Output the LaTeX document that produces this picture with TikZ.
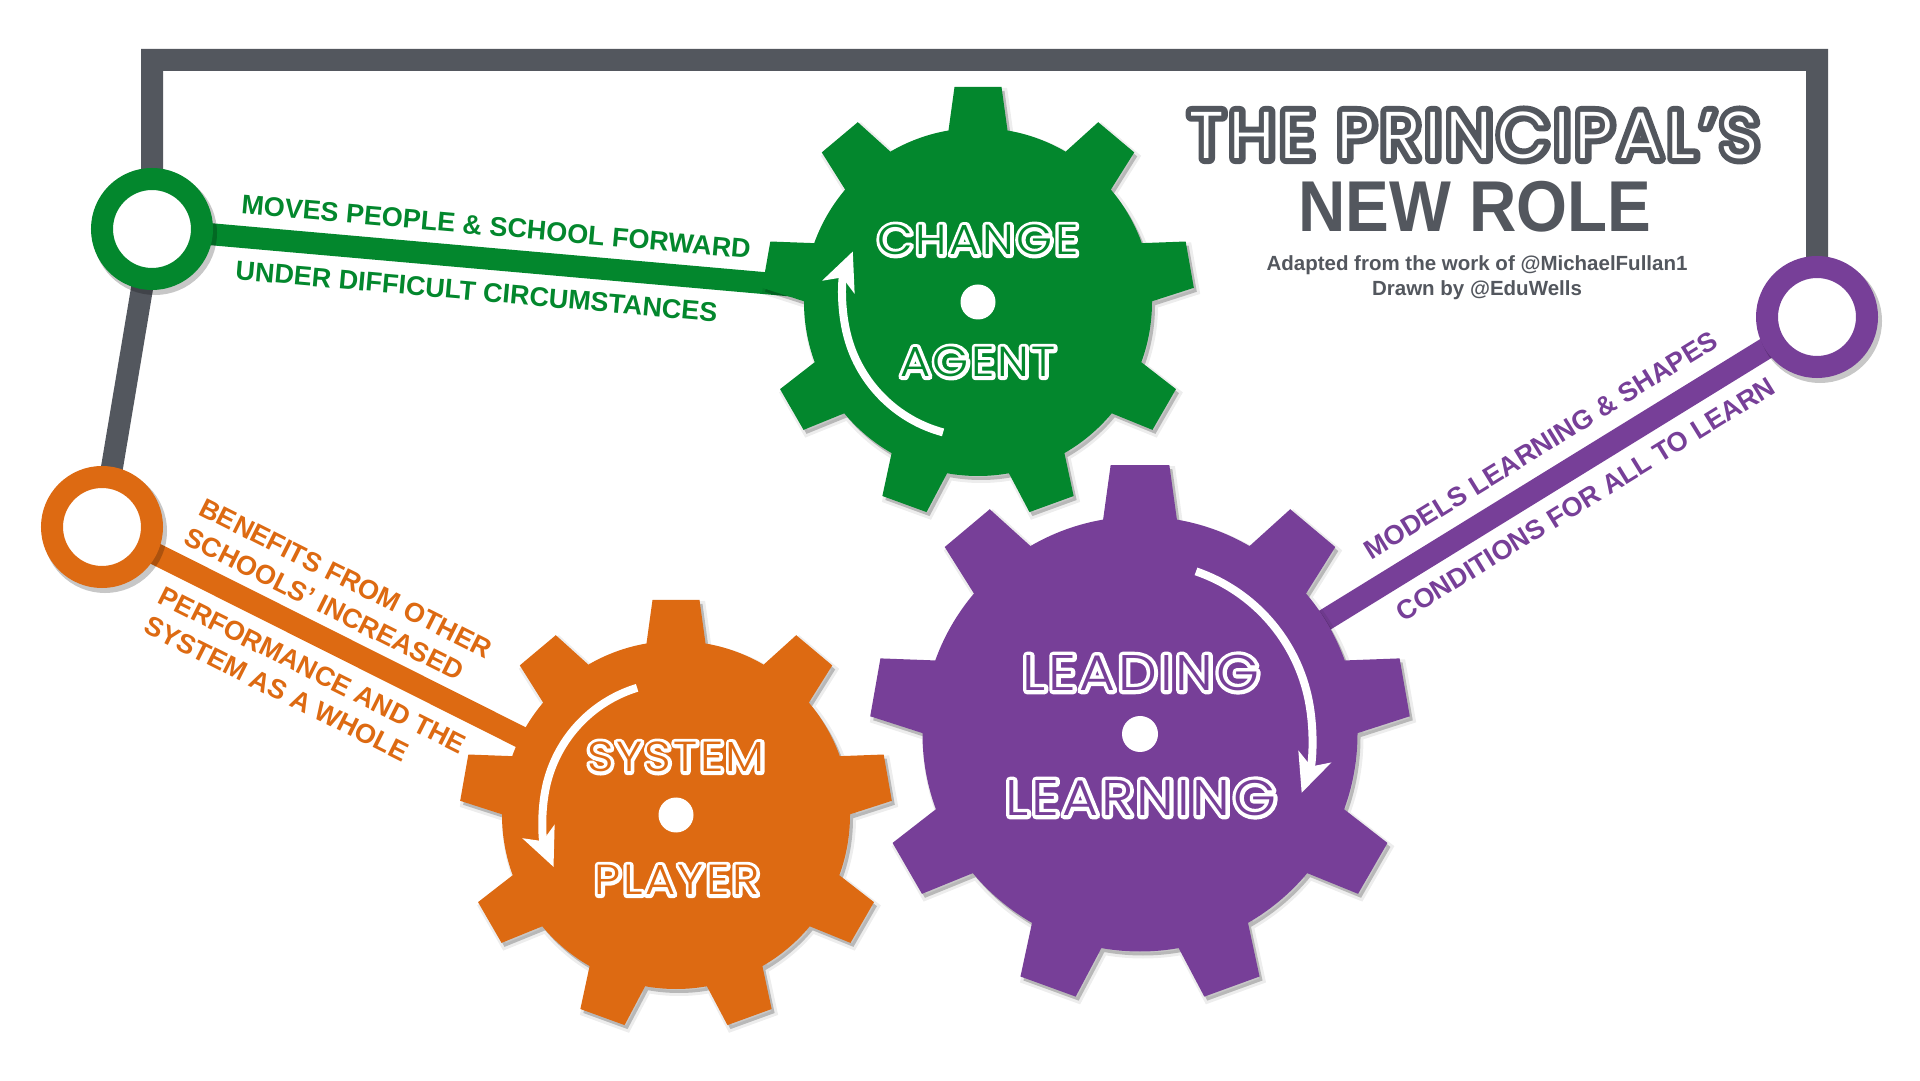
\documentclass[tikz,border=0pt]{standalone}
\usepackage{fontspec}
\setmainfont{Liberation Sans}
\IfFontExistsTF{Poppins Light}{\def\inlname{Poppins Light}}{%
  \IfFontExistsTF{Fira Sans Light}{\def\inlname{Fira Sans Light}}{\def\inlname{Poppins}}}
\newfontfamily\inl{\inlname}[FakeStretch=1.1,LetterSpace=6]
\newfontfamily\inlb{\inlname}[FakeStretch=1.1,LetterSpace=6,FakeBold=16.7]
\newfontfamily\inlbp{\inlname}[FakeStretch=1.1,LetterSpace=6,FakeBold=15.2]
\newfontfamily\inlt{\inlname}[LetterSpace=9]
\newfontfamily\inltb{\inlname}[LetterSpace=9,FakeBold=18]
\newcommand\inltx[4]{\leavevmode\rlap{#1\color{#2}#4}#3#4}
\usetikzlibrary{arrows.meta}
\definecolor{cgreen}{RGB}{3,135,45}
\definecolor{corange}{RGB}{221,106,18}
\definecolor{cpurple}{RGB}{119,63,152}
\definecolor{cgray}{RGB}{83,87,94}
\pgfdeclarelayer{backdrop}
\pgfdeclarelayer{links}
\pgfsetlayers{backdrop,links,main}
\tikzset{
  softshadow/.style={preaction={fill=black,fill opacity=0.22,draw=black,draw opacity=0.07,line width=6pt,
      transform canvas={xshift=3pt,yshift=-4pt}}},
  ringshadow/.style={preaction={draw=black,draw opacity=0.22,line width=24pt,
      transform canvas={xshift=3pt,yshift=-4pt}}},
  ring/.style={circle,draw=#1,line width=22pt,fill=white,minimum size=100pt,inner sep=0pt,ringshadow},
  bar/.style={line width=22pt,draw=#1},
  frame/.style={line width=22pt,draw=cgray,line join=miter},
  gearbody/.style={fill=#1,softshadow},
  turn/.style={draw=white,line width=8pt,-{Stealth[length=38pt,width=34pt,inset=10pt]}},
  lbl/.style={font=\bfseries\fontsize{27}{33}\selectfont,inner sep=0pt,outer xsep=0pt,align=left,sloped},
  gtxt/.style={font=\fontsize{42}{42}\selectfont,inner sep=0pt,text=#1,line join=round},
  ptxt/.style={font=\fontsize{50}{50}\selectfont,inner sep=0pt,text=#1,line join=round},
  hub/.style={fill=white},
}
\newcommand\drawgear[3]{%
  \fill[gearbody=#3,shift={(#1)},scale=#2] (0,0) circle[radius=174]
  \foreach \a in {10,50,...,330}{ ({\a-11}:163) -- ({\a-6.24}:216.3) -- ({\a+6.24}:216.3) -- ({\a+11}:163) -- cycle };
}
\begin{document}
\begin{tikzpicture}[x=1pt,y=1pt]
\begin{pgfonlayer}{backdrop}
\fill[white] (0,0) rectangle (1920,1080);
\end{pgfonlayer}
\useasboundingbox (0,0) rectangle (1920,1080);
\coordinate (cg) at (978,778);
\coordinate (sg) at (676,265);
\coordinate (lg) at (1140,346);
% gears
\drawgear{cg}{1}{cgreen}
\drawgear{sg}{1}{corange}
\drawgear{lg}{1.25}{cpurple}
\fill[hub] (cg) circle[radius=17.5];
\fill[hub] (sg) circle[radius=17.5];
\fill[hub] (lg) circle[radius=18];
% turning arrows
\draw[turn] (cg) ++(255:135) arc[start angle=255,end angle=158,radius=135];
\draw[turn] (lg) ++(71:172) arc[start angle=71,end angle=-20,radius=172];
\draw[turn] (sg) ++(107:133) arc[start angle=107,end angle=203,radius=133];
% gear texts
\node[gtxt=cgreen] (cgt1) at (978,840) {\inltx{\inlb}{white}{\inl}{CHANGE}};
\node[gtxt=cgreen] (cgt2) at (978,718) {\inltx{\inlb}{white}{\inl}{AGENT}};
\node[gtxt=corange] (sgt1) at (676,323) {\inltx{\inlb}{white}{\inl}{SYSTEM}};
\node[gtxt=corange] (sgt2) at (677,200) {\inltx{\inlb}{white}{\inl}{PLAYER}};
\node[ptxt=cpurple] (lgt1) at (1141,407) {\inltx{\inlbp}{white}{\inl}{LEADING}};
\node[ptxt=cpurple] (lgt2) at (1141,282) {\inltx{\inlbp}{white}{\inl}{LEARNING}};
% rings
\node[ring=cgreen] (gc) at (152,851) {};
\node[ring=corange] (oc) at (102,553) {};
\node[ring=cpurple] (pc) at (1817,763) {};
% links
\begin{pgfonlayer}{links}
\draw[frame] (oc.center) -- (gc.center) -- ++(0,169) -| (pc.center);
\draw[bar=cgreen] (gc.center) -- (cg);
\draw[bar=corange] (oc.center) -- (sg);
\draw[bar=cpurple] (lg) -- (pc.center);
\end{pgfonlayer}
% labels
\path (gc.center) -- (cg)
  node[lbl,text=cgreen,pos=0.105,anchor=south west,outer ysep=23pt] (gtop) {MOVES PEOPLE \& SCHOOL FORWARD}
  node[lbl,text=cgreen,pos=0.105,anchor=north west,outer ysep=24pt] (gbot) {UNDER DIFFICULT CIRCUMSTANCES};
\path (oc.center) -- (sg)
  node[lbl,text=corange,pos=0.124,anchor=south west,outer ysep=21pt] (otop) {BENEFITS FROM OTHER\\SCHOOLS’ INCREASED}
  node[lbl,text=corange,pos=0.129,anchor=north west,outer ysep=24pt] (obot) {PERFORMANCE AND THE\\SYSTEM AS A WHOLE};
\path (lg) -- (pc.center)
  node[lbl,text=cpurple,pos=0.362,anchor=south west,outer ysep=26pt] (ptop) {MODELS LEARNING \& SHAPES}
  node[lbl,text=cpurple,pos=0.356,anchor=north west,outer ysep=24pt] (pbot) {CONDITIONS FOR ALL TO LEARN};
% title
\node[font=\fontsize{66}{66}\selectfont,text=white,inner sep=0pt,line join=round] (t1) at (1474,945) {\inltx{\inltb}{cgray}{\inlt}{THE PRINCIPAL’S}};
\node[font=\bfseries\fontsize{72}{72}\selectfont,text=cgray,xscale=0.91,inner sep=0pt] (t2) at (1475,873) {NEW ROLE};
\node[font=\bfseries\fontsize{20.5}{25}\selectfont,text=cgray,align=center,inner sep=0pt] (t3) at (1477,802) {Adapted from the work of @MichaelFullan1\\Drawn by @EduWells};
\end{tikzpicture}
\end{document}
